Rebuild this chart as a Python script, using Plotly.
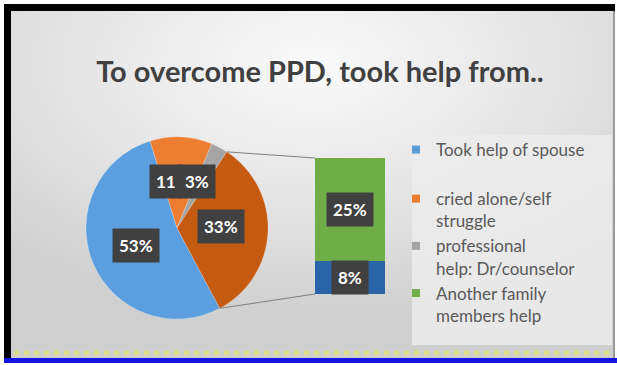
import base64
import math
import plotly.graph_objects as go

W, H = 617, 365

# ---- data ----
pie_labels = ["Took help of spouse", "cried alone/self struggle",
              "professional help: Dr/counselor"]
pie_values = [53, 11, 3]
detail_labels = ["Another family members help", "Other"]
detail_values = [25, 8]          # split out into the bar
other_value = sum(detail_values)  # shown as one slice in the pie

legend_names = ["Took help of spouse", "cried alone/self<br>struggle",
                "professional<br>help: Dr/counselor", "Another family<br>members help"]

# ---- styles ----
pie_colors = ["#5B9FE0", "#ED7D31", "#A5A5A5", "#C55A11"]
bar_colors = {"Another family members help": "#70AD47", "Other": "#2A64A8"}
legend_colors = ["#5B9BD5", "#ED7D31", "#A5A5A5", "#70AD47"]
FONT = "Lato"


def px(x):
    return x / W


def py(y):
    return 1 - y / H


# pie geometry (pixels)
cx, cy, r = 177, 228, 91
rotation = 152
# bar geometry (pixels)
bx0, bx1, by_top, by_bot = 315, 385, 158, 294

all_pie = pie_values + [other_value]
total = sum(all_pie)

fig = go.Figure()

fig.add_trace(go.Pie(
    labels=pie_labels + ["Other share"], values=all_pie,
    sort=False, direction="clockwise", rotation=rotation,
    marker=dict(colors=pie_colors, line=dict(color="rgba(255,255,255,0.4)", width=0.5)),
    textinfo="none", hoverinfo="label+percent", showlegend=False,
    domain=dict(x=[px(cx - r), px(cx + r)], y=[py(cy + r), py(cy - r)]),
))

# stacked bar of the split-out share: bottom segment first
stack_order = ["Other", "Another family members help"]
for name in stack_order:
    v = detail_values[detail_labels.index(name)]
    fig.add_trace(go.Bar(x=[0], y=[v], width=1, name=name, showlegend=False,
                         marker=dict(color=bar_colors[name], line=dict(width=0))))

# legend entries
for i, (nm, col) in enumerate(zip(legend_names, legend_colors)):
    fig.add_trace(go.Scatter(
        x=[None], y=[None], mode="markers", name=nm,
        legendgroup="a" if i == 0 else "b",
        marker=dict(symbol="square", size=8, color=col),
    ))

# ---- connector lines from the split slice to the bar ----
a_start = rotation + 360 * sum(pie_values) / total
a_end = rotation + 360 * (sum(pie_values) + other_value) / total


def pt(angle_deg):
    a = math.radians(angle_deg)
    return cx + r * math.sin(a), cy - r * math.cos(a)


shapes = []
sx, sy = pt(a_start)
ex, ey = pt(a_end)
for (x0, y0), (x1, y1) in [((sx, sy), (bx0, by_top)), ((ex, ey), (bx0, by_bot))]:
    shapes.append(dict(type="line", xref="paper", yref="paper",
                       x0=px(x0), y0=py(y0), x1=px(x1), y1=py(y1),
                       line=dict(color="#7F7F7F", width=1)))

# frame: black top/left edge, blue bottom rule, grey right edge
shapes += [
    dict(type="rect", xref="paper", yref="paper", x0=px(4), x1=px(615), y0=py(11), y1=py(4),
         fillcolor="black", line=dict(width=0), layer="above"),
    dict(type="rect", xref="paper", yref="paper", x0=px(4), x1=px(11), y0=py(360), y1=py(4),
         fillcolor="black", line=dict(width=0), layer="above"),
    dict(type="rect", xref="paper", yref="paper", x0=px(613), x1=px(615), y0=py(358), y1=py(11),
         fillcolor="#9A9A9A", line=dict(width=0), layer="above"),
    dict(type="line", xref="paper", yref="paper", x0=px(14), x1=px(613), y0=py(353), y1=py(353),
         line=dict(color="rgba(225,225,120,0.8)", width=5, dash="dot"), layer="above"),
    dict(type="rect", xref="paper", yref="paper", x0=px(4), x1=px(617), y0=py(363), y1=py(358),
         fillcolor="#1414E0", line=dict(width=0), layer="above"),
    # legend panel
    dict(type="rect", xref="paper", yref="paper", x0=px(412), x1=px(612), y0=py(345), y1=py(135),
         fillcolor="rgba(236,236,236,0.85)", line=dict(width=0), layer="below"),
]

# ---- data labels ----
lab_font = dict(family=FONT, size=17, color="white")
lab_style = dict(font=lab_font, bgcolor="#404040", borderpad=6, showarrow=False,
                 xanchor="center", yanchor="middle")
annotations = []
# the small orange slice's label is crowded by its neighbour, so only its number shows
pie_label_pos = [(136, 245), (166, 182), (197, 182), (221, 226)]
pie_label_fmt = ["{}%", "{}", "{}%", "{}%"]
for v, (lx, ly), fmt in zip(all_pie, pie_label_pos, pie_label_fmt):
    annotations.append(dict(text="<b>" + fmt.format(v) + "</b>", x=px(lx), y=py(ly),
                            xref="paper", yref="paper", **lab_style))

cum = 0
for name in stack_order:
    v = detail_values[detail_labels.index(name)]
    annotations.append(dict(text=f"<b>{v}%</b>", x=0, y=cum + v / 2, xref="x", yref="y",
                            **lab_style))
    cum += v

# radial grey gradient behind the chart
svg = ("<svg xmlns='http://www.w3.org/2000/svg' width='604' height='347'>"
       "<defs><radialGradient id='g' cx='50%' cy='15%' r='75%'>"
       "<stop offset='0' stop-color='#FAFAFA'/><stop offset='0.55' stop-color='#E4E4E4'/>"
       "<stop offset='1' stop-color='#CFCFCF'/></radialGradient></defs>"
       "<rect width='604' height='347' fill='url(#g)'/></svg>")
bg_src = "data:image/svg+xml;base64," + base64.b64encode(svg.encode()).decode()

fig.update_layout(
    width=W, height=H, margin=dict(l=0, r=0, t=0, b=0),
    paper_bgcolor="white", plot_bgcolor="rgba(0,0,0,0)",
    barmode="stack", bargap=0,
    title=dict(text="<b>To overcome PPD, took help from..</b>", x=px(320), xanchor="center",
               y=py(72), yanchor="middle", yref="container",
               font=dict(family=FONT, size=29, color="#404040")),
    xaxis=dict(domain=[px(bx0), px(bx1)], range=[-0.5, 0.5], visible=False, fixedrange=True),
    yaxis=dict(domain=[py(by_bot), py(by_top)], range=[0, other_value], visible=False,
               fixedrange=True),
    legend=dict(x=px(396), xanchor="left", y=py(132), yanchor="top",
                bgcolor="rgba(0,0,0,0)", font=dict(family=FONT, size=17, color="#595959"),
                traceorder="grouped", tracegroupgap=24, valign="top", itemwidth=30),
    shapes=shapes, annotations=annotations,
    images=[dict(source=bg_src, xref="paper", yref="paper", x=px(11), y=py(11),
                 sizex=px(604), sizey=347 / H, sizing="stretch", layer="below",
                 xanchor="left", yanchor="top")],
)

fig.write_html("out.html")
